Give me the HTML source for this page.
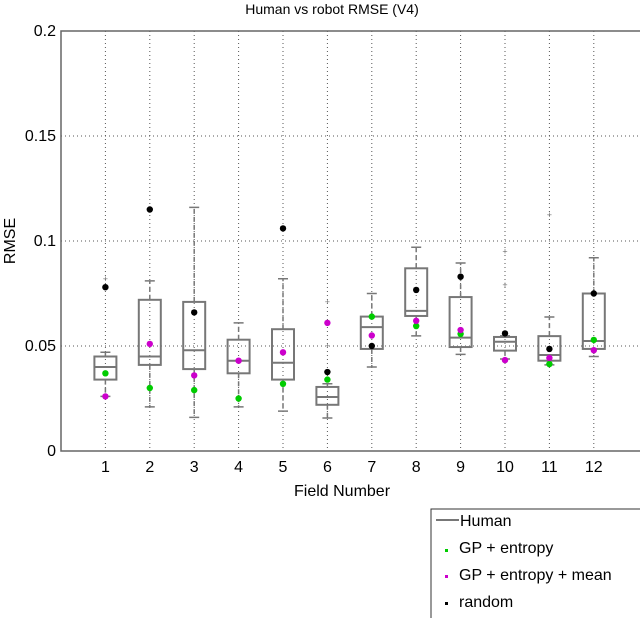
<!DOCTYPE html>
<html><head><meta charset="utf-8"><style>
body{margin:0;background:#fff}
svg{display:block;font-family:"Liberation Sans",sans-serif}
</style></head><body>
<svg id="chart" width="640" height="618" viewBox="0 0 640 618">
<text x="332" y="14" text-anchor="middle" font-size="14" fill="#000">Human vs robot RMSE (V4)</text>
<text transform="translate(15,241) rotate(-90)" text-anchor="middle" font-size="16">RMSE</text>
<text x="342" y="496" text-anchor="middle" font-size="16">Field Number</text>
<g id="grid"></g><g id="boxes"></g><g id="axes"></g><g id="pts"></g>
<g>
<rect x="431" y="509" width="215" height="120" fill="#fff" stroke="#333" stroke-width="1"/>
<line x1="436" y1="520" x2="459" y2="520" stroke="#777" stroke-width="2"/>
<text x="460" y="526" font-size="16">Human</text>
<rect x="445" y="549" width="3" height="3" fill="#00cc00"/>
<text x="459" y="553" font-size="16">GP + entropy</text>
<rect x="445" y="575" width="3" height="3" fill="#cc00cc"/>
<text x="459" y="580" font-size="16">GP + entropy + mean</text>
<rect x="445" y="602" width="3" height="3" fill="#000"/>
<text x="459" y="607" font-size="16">random</text>
</g>
</svg>
<script>
const fields=[1,2,3,4,5,6,7,8,9,10,11,12];
const whiskerHigh=[0.047,0.081,0.116,0.061,0.082,0.032,0.075,0.097,0.0895,0.0548,0.0638,0.092];
const q3=[0.045,0.072,0.071,0.053,0.058,0.0305,0.064,0.087,0.0733,0.0543,0.0547,0.075];
const median=[0.040,0.045,0.048,0.043,0.042,0.0257,0.059,0.0667,0.054,0.052,0.0457,0.0524];
const q1=[0.034,0.041,0.039,0.037,0.034,0.022,0.0486,0.0643,0.0495,0.0478,0.043,0.0486];
const whiskerLow=[0.026,0.021,0.016,0.021,0.019,0.0157,0.040,0.0548,0.046,0.0438,0.041,0.045];
const outlierField=[1,6,6,10,10,11];
const outlierValue=[0.082,0.071,0.050,0.095,0.079,0.1124];
const gpEntropy=[0.037,0.030,0.029,0.025,0.032,0.034,0.064,0.0595,0.0557,null,0.0414,0.0529];
const gpEntropyMean=[0.026,0.051,0.036,0.043,0.047,0.061,0.055,0.062,0.0576,0.0433,0.0443,0.048];
const randomVals=[0.078,0.115,0.066,null,0.106,0.0376,0.050,0.0767,0.083,0.056,0.0486,0.075];
const yTicks=[0,0.05,0.1,0.15,0.2];
const yTickLabels=["0","0.05","0.1","0.15","0.2"];

const NS="http://www.w3.org/2000/svg";
const X=i=>61+44.4*i, Y=v=>451-2100*v;
function mk(parent,tag,attrs){const e=document.createElementNS(NS,tag);for(const k in attrs)e.setAttribute(k,attrs[k]);document.getElementById(parent).appendChild(e);return e;}
yTicks.forEach((t,i)=>{
  if(t>0&&t<0.2){const g=mk('grid','line',{x1:61,x2:640,y1:Y(t),y2:Y(t),stroke:'#555','stroke-width':1,'stroke-dasharray':'1,3'});
  
  }
  const l=mk('axes','text',{x:56,y:Y(t)+5,'text-anchor':'end','font-size':16});
  l.textContent=yTickLabels[i];
  
  
});
fields.forEach(f=>{
  const g=mk('grid','line',{x1:X(f),x2:X(f),y1:31,y2:451,stroke:'#555','stroke-width':1,'stroke-dasharray':'1,3'});
  
  
  const l=mk('axes','text',{x:X(f),y:472,'text-anchor':'middle','font-size':16});
  l.textContent=String(f);
  
  
});
let a=mk('axes','path',{d:'M640 31 H61 V451 H640',fill:'none',stroke:'#666','stroke-width':1.5});


const hw=11,cap=5,col='#777';
fields.forEach((f,i)=>{
  const x=X(f);
  const w=mk('boxes','path',{d:`M${x} ${Y(q3[i])}V${Y(whiskerHigh[i])}M${x} ${Y(q1[i])}V${Y(whiskerLow[i])}`,stroke:col,'stroke-width':1.5,'stroke-dasharray':'5,3',fill:'none'});
  
  
  const c=mk('boxes','path',{d:`M${x-cap} ${Y(whiskerHigh[i])}H${x+cap}M${x-cap} ${Y(whiskerLow[i])}H${x+cap}`,stroke:col,'stroke-width':1.5});
  
  
  const b=mk('boxes','rect',{x:x-hw,y:Y(q3[i]),width:hw*2,height:Y(q1[i])-Y(q3[i]),fill:'none',stroke:col,'stroke-width':2});
  
  
  const m=mk('boxes','line',{x1:x-hw,x2:x+hw,y1:Y(median[i]),y2:Y(median[i]),stroke:col,'stroke-width':2});
  
  
});
outlierField.forEach((f,i)=>{
  const o=mk('pts','text',{x:X(f),y:Y(outlierValue[i])+3,'text-anchor':'middle','font-size':9,fill:'#777'});
  o.textContent='+';
  
  
});
function dots(arr,color,name){arr.forEach((v,i)=>{if(v==null)return;
  const d=mk('pts','circle',{cx:X(fields[i]),cy:Y(v),r:3.2,fill:color});
  
  });}
dots(gpEntropy,'#00cc00','gp-entropy-point');
dots(gpEntropyMean,'#cc00cc','gp-entropy-mean-point');
dots(randomVals,'#000','random-point');
</script>
</body></html>
